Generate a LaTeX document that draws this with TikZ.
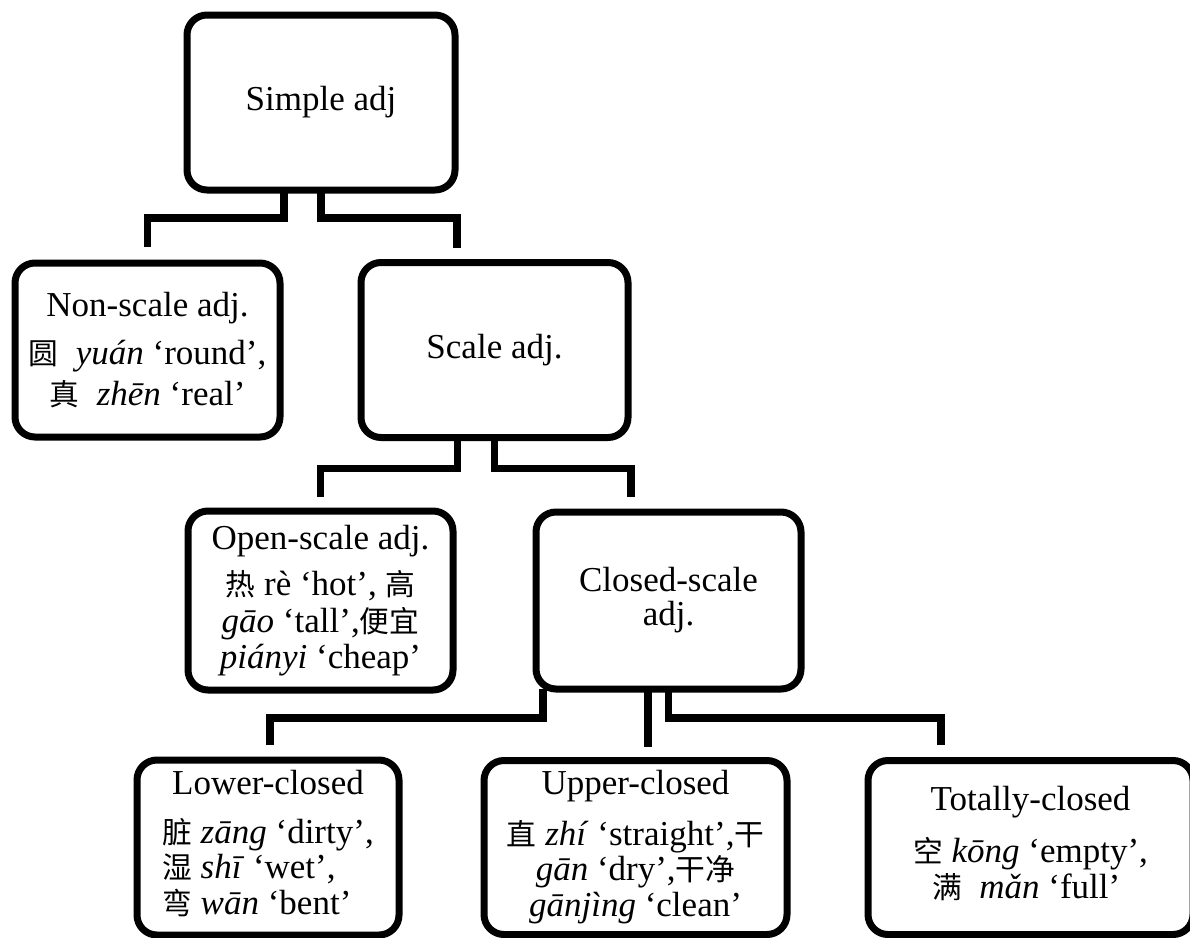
\documentclass[tikz,border=0pt]{standalone}
\usepackage{fontspec}
\setmainfont{Liberation Serif}
\newfontfamily\cjk[Scale=0.85]{Noto Sans CJK SC}
\usetikzlibrary{positioning}

\begin{document}
\begin{tikzpicture}[x=1pt, y=-1pt,
    adjbox/.style={draw, line width=7pt, rounded corners=20pt, outer sep=0pt,
      inner sep=0pt, align=center, font=\fontsize{35}{36}\selectfont},
    link/.style={draw, line width=7.5pt, line join=miter}]

\useasboundingbox (0,0) rectangle (1190,937);

% nodes
\node[adjbox, minimum width=268pt, minimum height=175pt] (simple) at (321,102.5) {Simple adj};%

\node[adjbox, minimum width=265pt, minimum height=174pt] (nonscale) at (147.5,350)
  {Non-scale adj.\\[12pt]{\cjk 圆}\ \ \textit{yuán} ‘round’,\\[5pt]{\cjk 真}\ \ \textit{zhēn} ‘real’};%
\node[adjbox, minimum width=267pt, minimum height=175pt, right=81pt of nonscale] (scale) {Scale adj.};%

\node[adjbox, minimum width=265pt, minimum height=179pt] (open) at (320.5,600.5)
  {Open-scale adj.\\[10pt]{\cjk 热} rè ‘hot’, {\cjk 高}\\[1pt]\textit{gāo} ‘tall’,{\cjk 便宜}\\\textit{piányi} ‘cheap’};%
\node[adjbox, minimum width=265pt, minimum height=177pt, right=83pt of open] (closed) {Closed-scale\\[-2pt]adj.};%

\node[adjbox, minimum width=262pt, minimum height=175pt] (lower) at (268,847.5)
  {\begin{tabular}{@{}l@{}}\multicolumn{1}{@{}c@{}}{Lower-closed}\\[13pt]
   {\cjk 脏} \textit{zāng} ‘dirty’,\\[-1pt]{\cjk 湿} \textit{shī} ‘wet’,\\{\cjk 弯} \textit{wān} ‘bent’\end{tabular}};%
\node[adjbox, minimum width=303pt, minimum height=174pt, right=85pt of lower] (upper)
  {Upper-closed\\[15pt]{\cjk 直} \textit{zhí} ‘straight’,{\cjk 干}\\[-1pt]\textit{gān} ‘dry’,{\cjk 干净}\\\textit{gānjìng} ‘clean’};%
\node[adjbox, minimum width=325pt, minimum height=174pt, right=81pt of upper] (totally)
  {\begin{tabular}{@{}l@{}}\multicolumn{1}{@{}c@{}}{Totally-closed}\\[16pt]
   {\cjk 空} \textit{kōng} ‘empty’,\\\hspace*{19pt}{\cjk 满}\ \ \textit{mǎn} ‘full’\end{tabular}};%

% connectors
\draw[link] ([xshift=-37pt]simple.south) -- ++(0,28) -| ([yshift=16pt]nonscale.north);
\draw[link] (simple.south) -- ++(0,28) -| ([xshift=-37.5pt,yshift=15pt]scale.north);

\draw[link] ([xshift=-37pt]scale.south) -- ++(0,31) -| ([yshift=14pt]open.north);
\draw[link] (scale.south) -- ++(0,31) -| ([xshift=-37.5pt,yshift=15pt]closed.north);

\draw[link] ([xshift=-125.5pt]closed.south) -- ++(0,29) -| ([xshift=2pt,yshift=15pt]lower.north);
\draw[link] ([xshift=-20.5pt]closed.south) -- ([xshift=12.5pt,yshift=14pt]upper.north);
\draw[link] (closed.south) -- ++(0,29) -| ([xshift=-89.5pt,yshift=16pt]totally.north);

\end{tikzpicture}
\end{document}
